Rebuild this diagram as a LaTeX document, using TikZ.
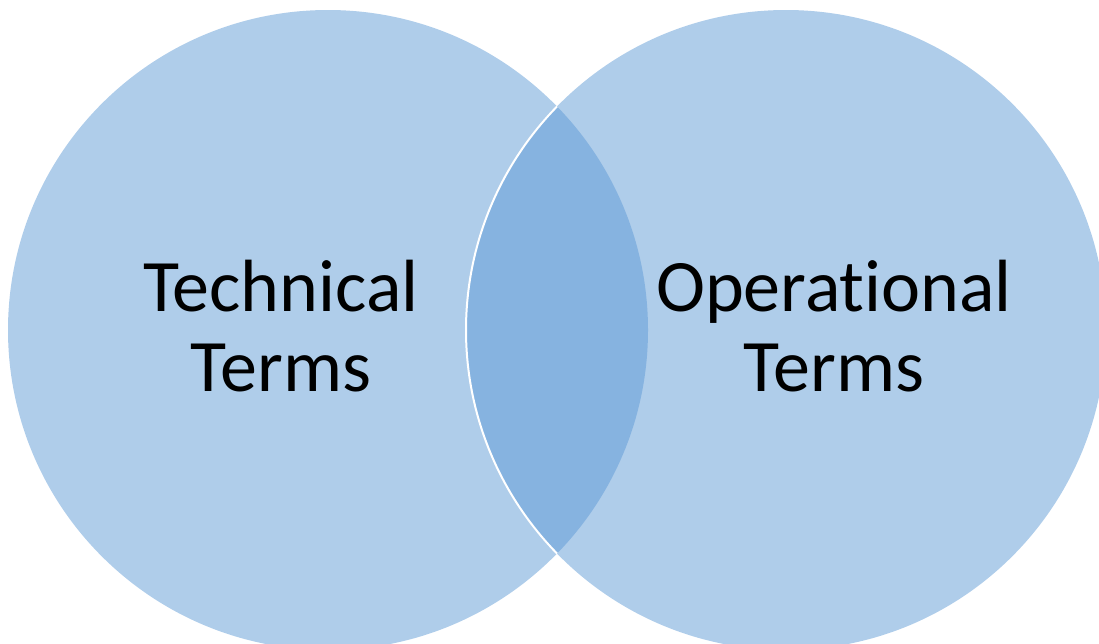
\documentclass[tikz,border=0pt]{standalone}
\usepackage{fontspec}
\setmainfont{Carlito}[Ligatures=NoCommon]
\usepackage{xcolor}

\definecolor{vennlight}{RGB}{175,205,234}
\definecolor{venndark}{RGB}{134,179,224}

\begin{document}
\begin{tikzpicture}[x=1pt,y=-1pt]
            \useasboundingbox (0,0) rectangle (1099,643);
            \coordinate (ltc) at (328,330);
            \coordinate (rtc) at (786,330);

            \fill[vennlight] (ltc) circle (320pt);
            \fill[vennlight] (rtc) circle (320pt);
            \begin{scope}
                \clip (ltc) circle (320pt);
                \fill[venndark] (rtc) circle (320pt);
                \draw[white,line width=2pt] (rtc) circle (320pt);
            \end{scope}

            \node (tech) at (281,326) [align=center,inner sep=0pt,font=\fontsize{74}{80}\selectfont] {Technical\\Terms};
            \node (oper) at (834,326) [align=center,inner sep=0pt,font=\fontsize{74}{80}\selectfont] {Operational\\Terms};

        \end{tikzpicture}
\end{document}
